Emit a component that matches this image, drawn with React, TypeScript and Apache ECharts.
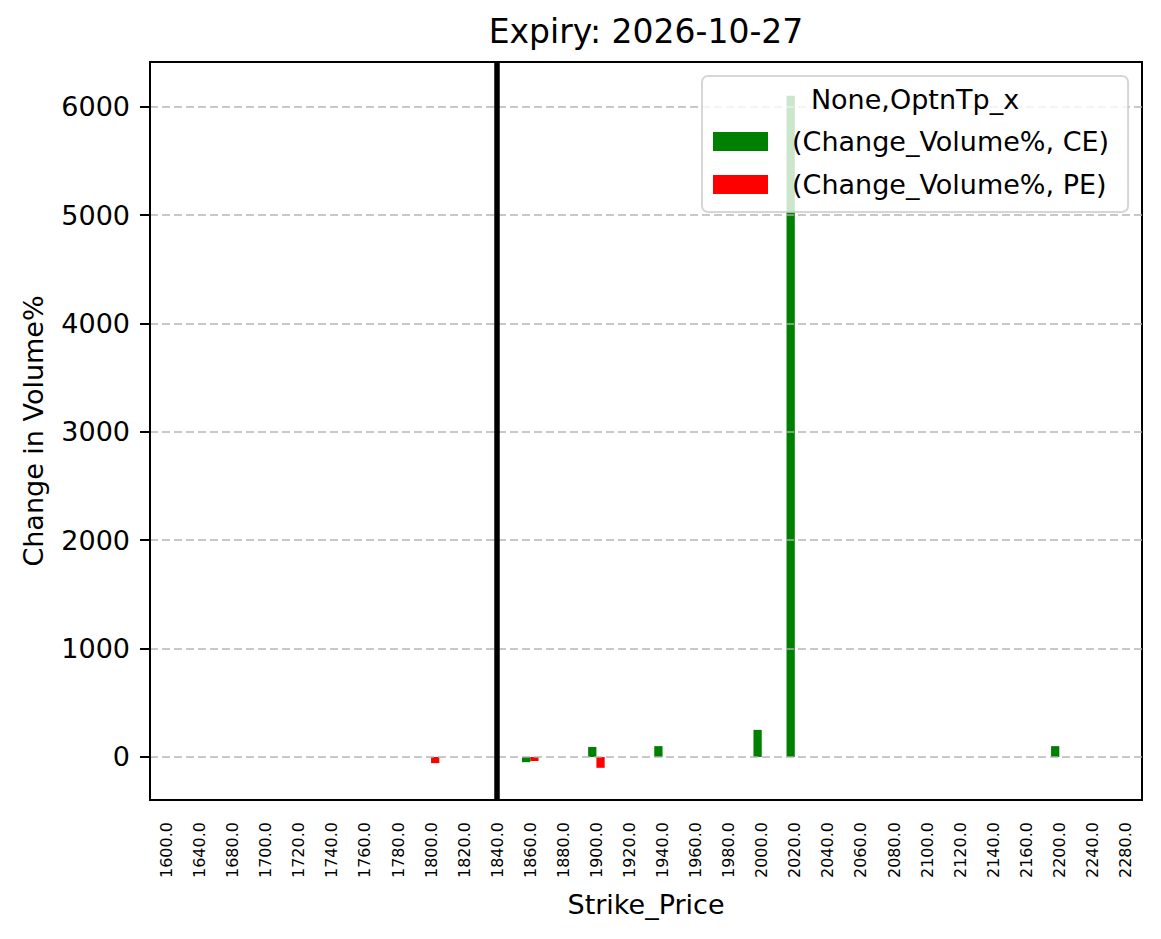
import { useEffect, useRef } from 'react'
import * as echarts from 'echarts'

// strike prices on the category axis
const strikes = [
  '1600.0', '1640.0', '1680.0', '1700.0', '1720.0', '1740.0', '1760.0', '1780.0',
  '1800.0', '1820.0', '1840.0', '1860.0', '1880.0', '1900.0', '1920.0', '1940.0',
  '1960.0', '1980.0', '2000.0', '2020.0', '2040.0', '2060.0', '2080.0', '2100.0',
  '2120.0', '2140.0', '2160.0', '2200.0', '2240.0', '2280.0'
]

// change in volume % (null = no bar)
const ceChange = [
  null, null, null, null, null, null, null, null,
  null, null, null, -48, null, 92, null, 100,
  null, null, 250, 6100, null, null, null, null,
  null, null, null, 100, null, null
]
const peChange = [
  null, null, null, null, null, null, null, null,
  -57, null, null, -37, null, -100, null, null,
  null, null, null, null, null, null, null, null,
  null, null, null, null, null, null
]

const spotStrike = '1840.0'
const yMin = -397
const yMax = 6412

const FONT = 'DejaVu Sans'

export default function App() {
  const chartRef = useRef<HTMLDivElement>(null)

  useEffect(() => {
    if (!chartRef.current) return
    const chart = echarts.init(chartRef.current, null, { renderer: 'svg' })

    chart.setOption({
      animation: false,
      backgroundColor: '#fff',
      title: {
        text: 'Expiry: 2026-10-27',
        left: 641,
        top: 10,
        textAlign: 'center',
        textStyle: { fontFamily: FONT, fontSize: 33, fontWeight: 'normal', color: '#000' }
      },
      grid: {
        left: 150,
        top: 62,
        right: 19,
        bottom: 139,
        show: true,
        borderColor: '#000',
        borderWidth: 2,
        backgroundColor: 'transparent'
      },
      legend: {
        orient: 'vertical',
        left: 702,
        top: 76,
        padding: [52, 19, 14, 11],
        itemWidth: 55,
        itemHeight: 19,
        itemGap: 16,
        icon: 'rect',
        selectedMode: false,
        data: ['(Change_Volume%, CE)', '(Change_Volume%, PE)'],
        textStyle: { fontFamily: FONT, fontSize: 27, color: '#000', padding: [0, 0, 0, 19] },
        backgroundColor: 'rgba(255,255,255,0.8)',
        borderColor: 'rgba(204,204,204,0.8)',
        borderWidth: 2,
        borderRadius: 6
      },
      graphic: [
        {
          type: 'text',
          x: 915,
          y: 99,
          z: 100,
          style: {
            text: 'None,OptnTp_x',
            font: `27px "${FONT}"`,
            fill: '#000',
            textAlign: 'center',
            textVerticalAlign: 'middle'
          }
        }
      ],
      xAxis: {
        type: 'category',
        data: strikes,
        name: 'Strike_Price',
        nameLocation: 'middle',
        nameGap: 91,
        nameTextStyle: { fontFamily: FONT, fontSize: 27, color: '#000' },
        axisLine: { onZero: false, lineStyle: { color: '#000', width: 2 } },
        axisTick: { alignWithLabel: true, length: 10, lineStyle: { color: '#000', width: 2 } },
        axisLabel: {
          interval: 0,
          rotate: 90,
          margin: 22,
          fontFamily: FONT,
          fontSize: 16,
          color: '#000'
        },
        splitLine: { show: false }
      },
      yAxis: {
        type: 'value',
        min: yMin,
        max: yMax,
        z: 3,
        name: 'Change in Volume%',
        nameLocation: 'middle',
        nameGap: 103,
        nameTextStyle: { fontFamily: FONT, fontSize: 27, color: '#000' },
        axisLine: { show: true, lineStyle: { color: '#000', width: 2 } },
        axisTick: { show: true, length: 10, lineStyle: { color: '#000', width: 2 } },
        axisLabel: {
          margin: 20,
          showMinLabel: false,
          showMaxLabel: false,
          formatter: (v: number) => String(v),
          fontFamily: FONT,
          fontSize: 27,
          color: '#000'
        },
        splitLine: {
          show: true,
          showMinLine: false,
          showMaxLine: false,
          lineStyle: { color: 'rgba(176,176,176,0.7)', width: 2, type: [8, 4] }
        }
      },
      series: [
        {
          name: '(Change_Volume%, CE)',
          type: 'bar',
          data: ceChange,
          barWidth: '25%',
          barGap: '0%',
          itemStyle: { color: '#008000' }
        },
        {
          name: '(Change_Volume%, PE)',
          type: 'bar',
          data: peChange,
          barWidth: '25%',
          barGap: '0%',
          itemStyle: { color: '#ff0000' }
        },
        {
          name: 'spot',
          type: 'line',
          data: [],
          z: 4,
          markLine: {
            silent: true,
            symbol: 'none',
            label: { show: false },
            lineStyle: { color: '#000', width: 5.5, type: 'solid' },
            data: [{ xAxis: spotStrike }]
          }
        }
      ]
    })

    return () => chart.dispose()
  }, [])

  return (
    <div
      ref={chartRef}
      style={{ position: 'absolute', left: 0, top: 0, width: 1161, height: 939 }}
    />
  )
}
